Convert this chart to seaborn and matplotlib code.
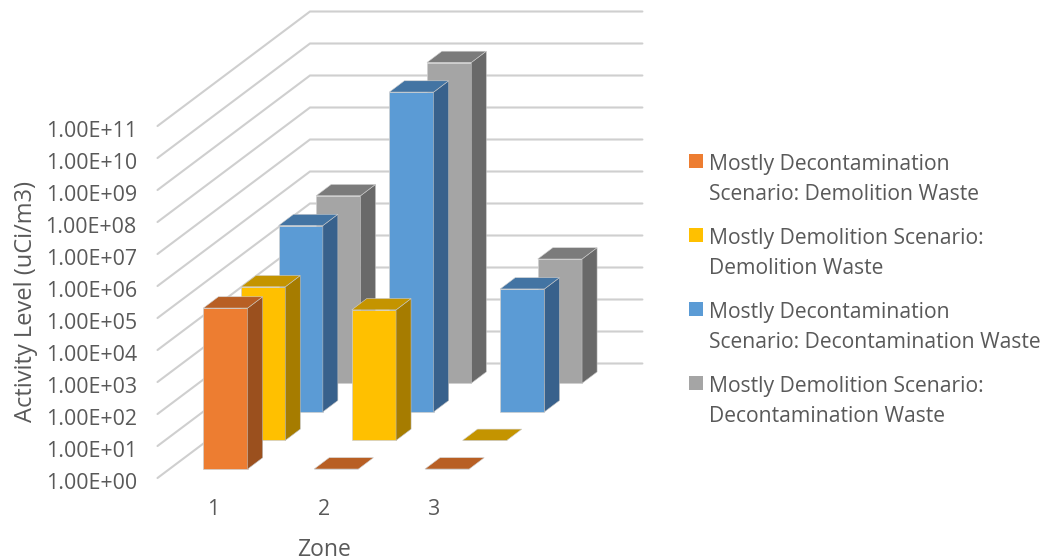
import matplotlib
matplotlib.use("Agg")
import matplotlib.pyplot as plt
import numpy as np
import pandas as pd
import seaborn as sns
from matplotlib.offsetbox import HPacker
from matplotlib.patches import Polygon
from matplotlib.ticker import FuncFormatter, NullLocator
from matplotlib.transforms import Affine2D, IdentityTransform

zones = ["1", "2", "3"]
series_names = [
    "Mostly Decontamination\nScenario: Demolition Waste",
    "Mostly Demolition Scenario:\nDemolition Waste",
    "Mostly Decontamination\nScenario: Decontamination Waste",
    "Mostly Demolition Scenario:\nDecontamination Waste",
]
decon_demolition = [1.07e5, 1.0, 1.0]
demol_demolition = [6.3e4, 1.2e4, 1.0]
decon_decon = [6.6e5, 9.8e9, 6.9e3]
demol_decon = [7.2e5, 1.05e10, 7.6e3]
series_values = [decon_demolition, demol_demolition, decon_decon, demol_decon]
decades = list(range(12))

front_colors = ["#ED7D31", "#FFC000", "#5B9BD5", "#A5A5A5"]
side_colors = ["#9B501E", "#A67C00", "#38618C", "#696969"]
top_colors = ["#B85F24", "#C49400", "#4374A3", "#7B7B7B"]

# Oblique projection of the depth axis, in pixels
FLOOR_DX, FLOOR_DY = 152.5, 114.5
SLOT_DX, SLOT_DY = 37.6, 28.6
BAR_DX, BAR_DY = 15.0, 11.3
FIRST_DX, FIRST_DY = 12.6, 9.0
BAR_WIDTH = 0.40

sns.set_theme(style="white")
plt.rcParams["font.family"] = ["Open Sans", "DejaVu Sans"]
TEXT_COLOR = "#595959"
GRID_COLOR = "#cfcfcf"

W, H = 1045, 560
fig = plt.figure(figsize=(W / 100, H / 100), dpi=100, facecolor="white")
ax = fig.add_axes([157.5 / W, (H - 478) / H, 332.4 / W, 352 / H])
ax.set_yscale("log")

df = pd.DataFrame(
    [
        {"Zone": z, "Series": name, "Activity": v}
        for name, values in zip(series_names, series_values)
        for z, v in zip(zones, values)
    ]
)

# Front faces, drawn by seaborn one series at a time from back to front
bars_by_series = {}
for i in reversed(range(4)):
    before = len(ax.patches)
    sns.barplot(
        data=df[df["Series"] == series_names[i]],
        x="Zone", y="Activity", order=zones, color=front_colors[i],
        saturation=1, width=BAR_WIDTH, errorbar=None, ax=ax, legend=False,
    )
    bars_by_series[i] = ax.patches[before:]

ax.set_xlim(-0.5, 2.5)
ax.set_ylim(1, 1e11)
ax.set_yticks([10.0 ** k for k in decades])
ax.yaxis.set_major_formatter(FuncFormatter(lambda v, _: f"{v:.2E}"))
ax.yaxis.set_minor_locator(NullLocator())
ax.tick_params(axis="both", length=0, labelsize=15.4, labelcolor=TEXT_COLOR)
ax.tick_params(axis="x", pad=15)
ax.tick_params(axis="y", pad=15)
# Sit the decade labels slightly below their gridline starts
for label in ax.get_yticklabels():
    label.set_transform(label.get_transform() + Affine2D().translate(0, -3))
ax.set_xlabel("Zone", fontsize=16.5, color=TEXT_COLOR, labelpad=13)
ax.set_ylabel("Activity Level (uCi/m3)", fontsize=17, color=TEXT_COLOR, labelpad=5)
ax.patch.set_visible(False)
sns.despine(ax=ax, left=True, bottom=True)


def to_screen(x, value, dx=0.0, dy=0.0):
    px, py = ax.transData.transform((x, value))
    return px + dx, py + dy


# Side wall and back wall gridlines
for k in decades:
    v = 10.0 ** k
    p0 = to_screen(-0.5, v)
    p1 = to_screen(-0.5, v, FLOOR_DX, FLOOR_DY)
    p2 = to_screen(2.5, v, FLOOR_DX, FLOOR_DY)
    ax.plot([p0[0], p1[0], p2[0]], [p0[1], p1[1], p2[1]], color=GRID_COLOR, lw=1.5,
            transform=IdentityTransform(), clip_on=False, zorder=1,
            solid_capstyle="round", solid_joinstyle="miter", scalex=False, scaley=False)

# Shift each front face to its depth, then add the side and top faces
for i, bars in bars_by_series.items():
    dx = FIRST_DX + SLOT_DX * i
    dy = FIRST_DY + SLOT_DY * i
    z = 10 + (3 - i) * 5
    for bar, value, j in zip(bars, series_values[i], range(3)):
        bar.set_y(1.0)
        bar.set_height(value - 1.0)
        bar.set_transform(ax.transData + Affine2D().translate(dx, dy))
        bar.set_clip_on(False)
        bar.set_zorder(z)
        bar.set_edgecolor("#cfcfcf")
        bar.set_linewidth(0.5)

        x0, x1 = j - BAR_WIDTH / 2, j + BAR_WIDTH / 2
        fl = to_screen(x0, value, dx, dy)
        fr = to_screen(x1, value, dx, dy)
        br = to_screen(x1, 1.0, dx, dy)
        if value > 1.0:
            side = [fr, (fr[0] + BAR_DX, fr[1] + BAR_DY),
                    (br[0] + BAR_DX, br[1] + BAR_DY), br]
            ax.add_patch(Polygon(side, closed=True, facecolor=side_colors[i],
                                 edgecolor="#bdbdbd", linewidth=0.4,
                                 transform=IdentityTransform(), clip_on=False, zorder=z + 1))
        top = [fl, fr, (fr[0] + BAR_DX, fr[1] + BAR_DY), (fl[0] + BAR_DX, fl[1] + BAR_DY)]
        ax.add_patch(Polygon(top, closed=True, facecolor=top_colors[i],
                             edgecolor="#cfcfcf", linewidth=0.4,
                             transform=IdentityTransform(), clip_on=False, zorder=z + 2))

handles = [bars_by_series[i][0] for i in range(4)]
legend = fig.legend(
    handles, series_names, loc="upper left", bbox_to_anchor=(689 / W, 1 - 154 / H),
    bbox_transform=fig.transFigure, frameon=False, fontsize=15.2, labelcolor=TEXT_COLOR,
    handlelength=0.66, handleheight=0.66, handletextpad=0.27, labelspacing=1.08,
    borderaxespad=0, borderpad=0,
)
for text in legend.get_texts():
    text.set_linespacing(1.57)
for box in legend.findobj(HPacker):
    box.align = "top"
for handle in legend.legend_handles:
    handle.set_edgecolor("none")

fig.savefig("out.png", dpi=100, facecolor="white")
